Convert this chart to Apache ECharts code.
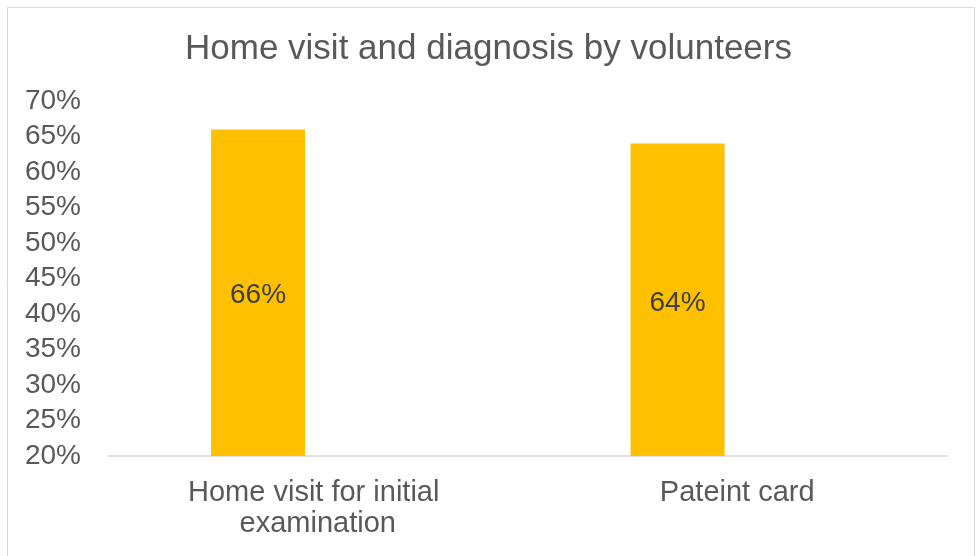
<!DOCTYPE html>
<html>
<head>
<meta charset="utf-8">
<script src="https://cdn.jsdelivr.net/npm/echarts@6/dist/echarts.min.js"></script>
<style>
  html, body { margin: 0; padding: 0; background: #fff; }
  #chart { width: 977px; height: 556px; }
</style>
</head>
<body>
<div id="chart"></div>
<script>
// Share of volunteers doing each activity (percent)
const categories = ['Home visit for initial examination', 'Pateint card'];
const shareValues = [66, 64];
// Second, empty series keeps the clustered-bar slot next to the filled bars
const emptyValues = [null, null];
const yTicks = { min: 20, max: 70, interval: 5 };

const FONT = 'Liberation Sans, Arial, sans-serif';
const chart = echarts.init(document.getElementById('chart'));

chart.setOption({
  backgroundColor: '#ffffff',
  animation: false,
  title: {
    text: 'Home visit and diagnosis by volunteers',
    left: 'center',
    top: 27,
    textStyle: { fontFamily: FONT, fontSize: 35, fontWeight: 'normal', color: '#595959' }
  },
  graphic: [{
    type: 'rect',
    shape: { x: 7.5, y: 7.5, width: 967, height: 560 },
    style: { fill: 'none', stroke: '#d9d9d9', lineWidth: 1 },
    silent: true
  }],
  grid: { left: 108, right: 30, top: 101, bottom: 100, containLabel: false },
  xAxis: {
    type: 'category',
    data: categories,
    axisLine: { show: true, lineStyle: { color: '#d9d9d9', width: 1.5 } },
    axisTick: { show: false },
    axisLabel: {
      fontFamily: FONT, fontSize: 29, color: '#595959',
      margin: 21, lineHeight: 31, width: 300, overflow: 'break', interval: 0
    }
  },
  yAxis: {
    type: 'value',
    min: yTicks.min, max: yTicks.max, interval: yTicks.interval,
    axisLine: { show: false },
    axisTick: { show: false },
    splitLine: { show: false },
    axisLabel: {
      fontFamily: FONT, fontSize: 28, color: '#595959', margin: 27,
      formatter: v => v + '%'
    }
  },
  series: [
    {
      name: 'Share',
      type: 'bar',
      data: shareValues,
      barWidth: 94,
      barGap: '27%',
      itemStyle: { color: '#FFC000' },
      label: {
        show: true, position: 'inside', offset: [0, 3],
        fontFamily: FONT, fontSize: 28, color: '#404040',
        formatter: p => p.value + '%'
      }
    },
    {
      name: 'Empty',
      type: 'bar',
      data: emptyValues,
      barWidth: 94,
      itemStyle: { color: '#FFC000' }
    }
  ]
});
</script>
</body>
</html>
